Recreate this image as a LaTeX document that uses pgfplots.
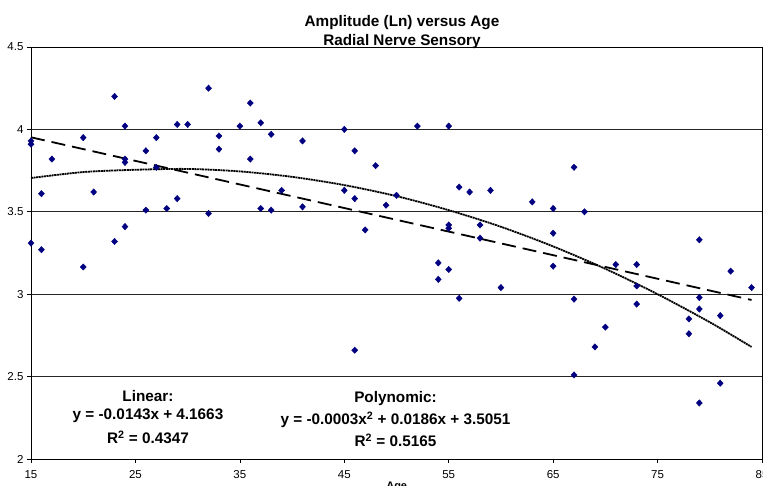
\documentclass[border=0pt]{standalone}
\usepackage{fontspec}
\setmainfont{Liberation Sans}
\usepackage{pgfplots}
\pgfplotsset{compat=1.18}
\definecolor{navy}{HTML}{000080}
\begin{document}
\begin{tikzpicture}
\begin{axis}[name=ax, at={(0,0)}, anchor=south west,
 scale only axis, width=731pt, height=412pt,
 xmin=15, xmax=85, ymin=2, ymax=4.5,
 xtick={15,25,...,85}, ytick={2,2.5,...,4.5},
 xticklabels={15,25,35,45,55,65,75,85},
 yticklabels={2,2.5,3,3.5,4,4.5},
 ymajorgrids, grid style={black!85, line width=0.6pt},
 axis line style={black, line width=0.8pt},
 tick style={black, line width=0.6pt},
 tick align=outside, major tick length=4pt,
 xtick pos=left, ytick pos=left,
 /pgf/number format/assume math mode=true,
 tick label style={font=\fontsize{11.5}{13}\selectfont},
 xticklabel style={yshift=-4pt},
]
\addplot[only marks, mark=diamond*, mark size=3.2pt, color=navy, mark options={xscale=1.25, fill=navy, draw=navy}] coordinates {
(15,3.93) (15,3.91) (15,3.31) (16,3.61) (16,3.27) (17,3.82) (20,3.95) (20,3.165)
(21,3.62) (23,4.20) (23,3.32) (24,4.02) (24,3.82) (24,3.80) (24,3.41) (26,3.87)
(26,3.51) (27,3.95) (27,3.77) (28,3.52) (29,4.03) (29,3.58) (30,4.03) (32,4.25)
(32,3.49) (33,3.96) (33,3.88) (35,4.02) (36,4.16) (36,3.82) (37,4.04) (37,3.52)
(38,3.97) (38,3.51) (39,3.63) (41,3.93) (41,3.53) (45,4.00) (45,3.63) (46,3.87)
(46,3.58) (46,2.66) (47,3.39) (48,3.78) (49,3.54) (50,3.60) (52,4.02) (54,3.19)
(54,3.09) (55,4.02) (55,3.42) (55,3.40) (55,3.15) (56,3.65) (56,2.975) (57,3.62)
(58,3.42) (58,3.34) (59,3.63) (60,3.04) (63,3.56) (65,3.52) (65,3.37) (65,3.17)
(67,3.77) (67,2.97) (67,2.51) (68,3.50) (69,2.68) (70,2.80) (71,3.18) (73,3.18)
(73,3.05) (73,2.94) (78,2.85) (78,2.76) (79,3.33) (79,2.98) (79,2.91) (79,2.34)
(81,2.87) (81,2.46) (82,3.14) (84,3.04)
};
\addplot[black, line width=1.8pt, dash pattern=on 14pt off 7pt] coordinates {(15,3.952) (84,2.965)};
\addplot[black, line width=1.8pt, dash pattern=on 2pt off 0.6pt, smooth] coordinates {
(15,3.705) (20,3.741) (25,3.755) (30,3.76) (35,3.745) (40,3.712) (45,3.662) (50,3.595)
(55,3.51) (60,3.409) (65,3.29) (70,3.154) (75,3.0) (80,2.83) (84,2.68)
};
\end{axis}
\node[font=\bfseries\fontsize{15.3}{17}\selectfont, anchor=base] at (371pt,432.3pt) {Amplitude (Ln) versus Age};
\node[font=\bfseries\fontsize{15.3}{17}\selectfont, anchor=base] at (371pt,413pt) {Radial Nerve Sensory};
\node[font=\bfseries\fontsize{15.3}{17}\selectfont, anchor=base] at (117pt,57pt) {Linear:};
\node[font=\bfseries\fontsize{15.3}{17}\selectfont, anchor=base] at (117pt,39pt) {y = -0.0143x + 4.1663};
\node[font=\bfseries\fontsize{15.3}{17}\selectfont, anchor=base] at (117pt,15.7pt) {R\textsuperscript{2} = 0.4347};
\node[font=\bfseries\fontsize{15.3}{17}\selectfont, anchor=base] at (364.5pt,56.7pt) {Polynomic:};
\node[font=\bfseries\fontsize{15.3}{17}\selectfont, anchor=base] at (364.5pt,34.7pt) {y = -0.0003x\textsuperscript{2} + 0.0186x + 3.5051};
\node[font=\bfseries\fontsize{15.3}{17}\selectfont, anchor=base] at (364.5pt,12.3pt) {R\textsuperscript{2} = 0.5165};
\node[font=\bfseries\fontsize{11}{13}\selectfont, anchor=base] at (365.7pt,-30.5pt) {Age};
\pgfresetboundingbox
\path (-31pt,-27pt) rectangle (732pt,459pt);
\end{tikzpicture}
\end{document}
